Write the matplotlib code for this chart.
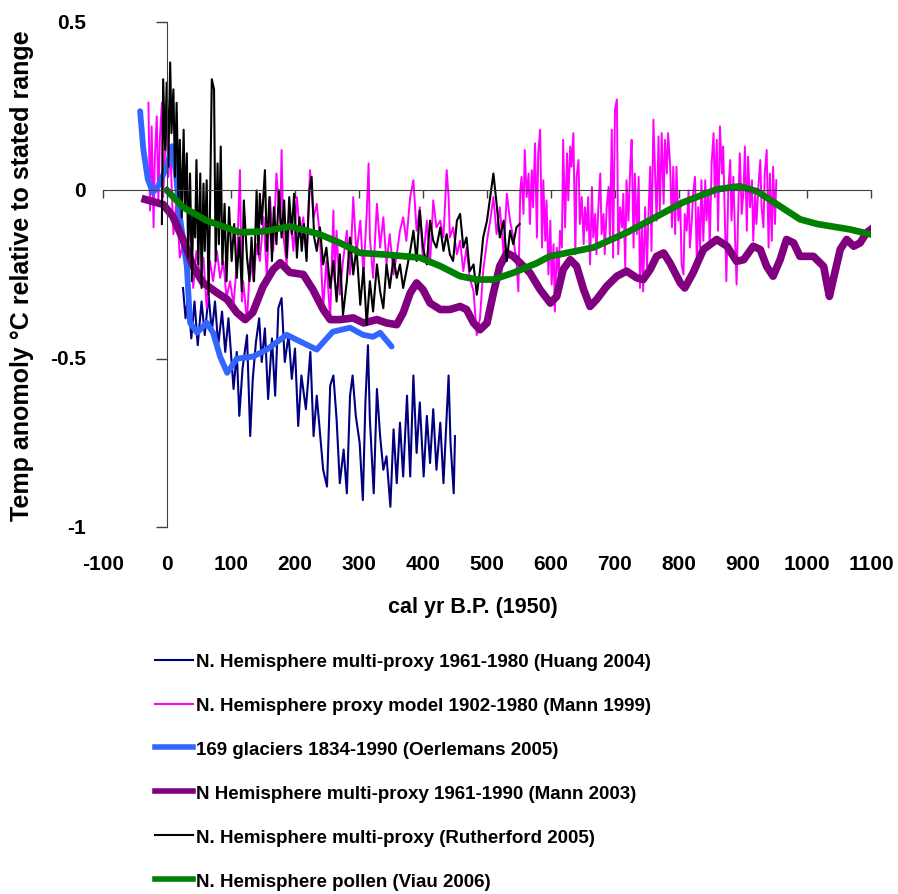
import matplotlib
matplotlib.use("Agg")
import matplotlib.pyplot as plt
import matplotlib.transforms as mtransforms
from matplotlib.lines import Line2D

plt.rcParams['font.family'] = ['Liberation Sans', 'DejaVu Sans']
plt.rcParams['font.weight'] = 'bold'

# === data ===
x_ticks = [-100, 0, 100, 200, 300, 400, 500, 600, 700, 800, 900, 1000, 1100]
y_ticks = [0.5, 0, -0.5, -1]
y_tick_labels = ["0.5", "0", "-0.5", "-1"]

labels = [
    "N. Hemisphere multi-proxy 1961-1980 (Huang 2004)",
    "N. Hemisphere proxy model 1902-1980 (Mann 1999)",
    "169 glaciers 1834-1990 (Oerlemans 2005)",
    "N Hemisphere multi-proxy 1961-1990 (Mann 2003)",
    "N. Hemisphere multi-proxy (Rutherford 2005)",
    "N. Hemisphere pollen (Viau 2006)",
]

# Huang 2004
huang_x = [25, 29, 33, 38, 43, 48, 54, 59, 65, 70, 75, 80, 86, 91, 96,
           104, 109, 113, 118, 125, 130, 134, 139, 144, 148,
           153, 158, 164, 169, 174, 179, 184, 190, 195, 200,
           205, 210, 217, 224, 229, 234, 239, 244, 250, 255,
           260, 265, 270, 276, 281, 286, 290, 295, 301, 306,
           310, 314, 317, 323, 328, 333, 338, 343, 349, 354,
           359, 364, 369, 375, 380, 385, 390, 395, 401, 406,
           411, 416, 421, 427, 432, 440, 443, 448, 450]
huang_y = [-0.29, -0.38, -0.31, -0.44, -0.33, -0.46, -0.33, -0.43, -0.31, -0.42, -0.33, -0.46, -0.36, -0.48, -0.38,
           -0.59, -0.48, -0.67, -0.53, -0.43, -0.73, -0.56, -0.45, -0.38, -0.51,
           -0.41, -0.62, -0.44, -0.61, -0.35, -0.32, -0.51, -0.43, -0.56, -0.47,
           -0.70, -0.55, -0.65, -0.48, -0.73, -0.61, -0.72, -0.83, -0.88, -0.58,
           -0.55, -0.68, -0.87, -0.77, -0.90, -0.61, -0.55, -0.67, -0.75, -0.92,
           -0.63, -0.46, -0.68, -0.90, -0.59, -0.73, -0.83, -0.79, -0.94, -0.71,
           -0.87, -0.69, -0.85, -0.61, -0.85, -0.55, -0.78, -0.63, -0.85, -0.67,
           -0.81, -0.65, -0.83, -0.69, -0.87, -0.55, -0.75, -0.90, -0.73]

# Mann 1999
mann99_x = [-29, -26.5, -24, -21, -19, -16, -13.5, -11, -8, -6, -0.5, 2, 5, 10, 15,
            20, 26, 31, 36, 41, 46, 52, 57, 62, 67, 72, 78, 83, 88, 93,
            98.5, 104, 109, 114, 117, 119, 125, 130, 135, 140, 145, 151, 156, 161, 166,
            171, 177, 179, 182, 187, 192, 197.5, 203, 208, 213, 218, 223.5, 229, 234,
            239, 244, 249, 255, 260, 262, 265, 270, 275, 281, 286, 291, 296, 302, 307,
            312, 315, 317, 322, 328, 333, 338, 343, 348, 354, 359, 364, 369, 374, 380,
            385, 390, 395, 400, 406, 411, 416, 421, 427, 432, 437, 440, 442, 447, 453,
            458, 463, 468, 473, 479, 484, 489, 494, 500, 505, 510, 515, 520, 526, 531,
            536, 541, 546, 549,
            552, 554, 557, 559, 562, 565, 567, 570, 572, 575, 578, 580, 583, 586, 588,
            591, 593, 596, 599, 601, 604, 606, 609, 612, 614, 617, 619, 622, 625, 627,
            630, 632, 635, 638, 640, 643, 645, 648, 651, 653, 656, 658, 661, 664, 666,
            669, 671, 674, 677, 679, 682, 684, 687, 690, 692, 695, 697, 700, 703, 705,
            708, 711, 713, 716, 718, 721, 724, 726, 729, 731, 734, 737, 739, 742, 744,
            747, 750, 752, 755, 757, 760, 763, 765, 768, 770, 773, 776, 778, 781, 783, 786,
            789, 791, 794, 796, 799, 802, 804, 807, 809, 812, 815, 817, 820, 822, 825,
            828, 830, 833, 835, 838, 841, 843, 846, 848, 851, 854, 856, 859, 861, 864,
            867, 869, 872, 874, 877, 880, 882, 885, 888, 890, 893, 895, 898, 901, 903,
            906, 908, 911, 914, 916, 919, 921, 924, 927, 929, 932, 934, 937, 940, 942,
            945, 947, 950, 952]
mann99_y = [0.26, -0.06, 0.19, -0.11, 0.10, 0.22, -0.03, 0.16, 0.26, -0.02, 0.22, 0.04, 0.13, -0.13, -0.03,
            -0.20, -0.15, -0.23, -0.06, -0.29, -0.18, -0.26, -0.20, -0.35, -0.21, -0.27, -0.18, -0.26, -0.21, -0.32,
            -0.27, -0.34, -0.22, 0.06, -0.33, -0.27, -0.39, -0.20, -0.27, -0.16, -0.21, -0.08, -0.26, -0.02, -0.18,
            0.05, -0.10, 0.12, -0.14, -0.22, -0.06, -0.18, -0.02, -0.14, -0.08, -0.20, 0.06, -0.08, -0.04,
            -0.14, -0.35, -0.21, -0.38, -0.06, -0.27, -0.12, -0.31, -0.21, -0.12, -0.25, -0.02, -0.19, -0.09, -0.25,
            -0.07, 0.08, -0.14, -0.26, -0.04, -0.17, -0.08, -0.22, -0.13, -0.25, -0.19, -0.12, -0.08, -0.15, -0.02,
            0.03, -0.12, -0.05, -0.21, -0.09, -0.22, -0.03, -0.11, -0.09, -0.14, 0.06, -0.02, -0.14, -0.11, -0.19,
            -0.15, -0.24, -0.17, -0.26, -0.30, -0.43, -0.38, -0.24, -0.15, -0.09, -0.02, -0.13, -0.05, -0.19, -0.01,
            -0.09, -0.14, -0.21, -0.30,
            0.00, 0.04, -0.07, 0.12, -0.02, 0.05, -0.10, 0.06, -0.05, 0.14, -0.14, 0.11, 0.18, -0.17, 0.03,
            -0.15, -0.03, -0.25, -0.09, -0.28, -0.16, -0.36, -0.17, -0.26, -0.12, -0.17, 0.15, -0.11, 0.11, -0.03,
            0.13, 0.07, 0.17, -0.19, 0.04, 0.09, -0.10, -0.02, -0.16, -0.05, -0.12, -0.02, -0.22, 0.01, -0.14,
            -0.07, -0.19, -0.05, 0.05, -0.13, -0.07, -0.19, -0.05, 0.01, -0.14, 0.18, -0.20, 0.24, 0.27, -0.19,
            -0.05, -0.11, -0.01, -0.23, 0.03, -0.09, 0.08, 0.15, -0.17, 0.05, -0.13, 0.04, -0.29, -0.11, -0.30,
            -0.05, -0.23, -0.09, 0.07, -0.18, 0.21, 0.03, -0.09, 0.16, -0.06, 0.17, -0.04, 0.15, 0.05, 0.17, 0.08,
            -0.11, 0.07, -0.13, 0.07, -0.09, -0.03, -0.22, -0.25, -0.07, -0.12, 0.00, -0.17, -0.09, -0.01, 0.04,
            -0.23, -0.05, -0.17, 0.03, -0.15, 0.03, -0.09, 0.00, -0.17, 0.08, 0.17, -0.02, 0.15, -0.12, 0.19,
            0.05, 0.13, -0.11, -0.27, 0.00, 0.09, -0.09, 0.04, -0.17, -0.28, -0.02, 0.11, -0.07, 0.01, 0.13,
            -0.12, 0.10, -0.05, 0.03, -0.15, -0.01, -0.10, 0.01, 0.09, -0.05, -0.11, 0.05, 0.12, -0.17, 0.05,
            -0.15, 0.07, -0.10, 0.03]

# Oerlemans 2005
glac_x = [-42, -37, -30, -22, -14, 0, 8, 14, 20, 31, 36, 47, 62, 72, 83, 94,
          109, 134, 156, 187, 208, 234, 259, 286, 306, 322, 333, 351]
glac_y = [0.235, 0.122, 0.033, -0.006, 0.012, 0.071, 0.131, 0.05, -0.077, -0.226,
          -0.393, -0.423, -0.393, -0.423, -0.494, -0.542, -0.5, -0.494, -0.473,
          -0.429, -0.449, -0.473, -0.42, -0.408, -0.429, -0.435, -0.423, -0.464]

# Mann 2003
mann03_x = [-34, -6, 9, 25, 41, 56, 78, 94, 109, 122,
            134, 150, 166, 177, 192, 213, 228, 244, 255, 270,
            291, 307, 328, 343, 359, 369, 380, 390, 400, 411,
            427, 442, 458, 468, 479, 489, 500, 510, 520, 531,
            541, 552, 567, 583, 599, 609, 619, 630, 640, 651,
            661, 671, 687, 703, 718, 734, 744, 755, 765, 776,
            786, 802, 809, 822, 838, 859, 875, 890, 901, 916,
            927, 937, 947, 958, 968, 979, 989, 1010, 1026, 1035,
            1041, 1052, 1062, 1073, 1083, 1093, 1100]
mann03_y = [-0.027, -0.042, -0.077, -0.146, -0.226, -0.274, -0.304, -0.324, -0.363, -0.384,
            -0.363, -0.286, -0.235, -0.215, -0.244, -0.25, -0.295, -0.354, -0.384, -0.384,
            -0.379, -0.394, -0.384, -0.394, -0.399, -0.364, -0.305, -0.275, -0.295, -0.335,
            -0.354, -0.354, -0.345, -0.354, -0.394, -0.414, -0.394, -0.305, -0.225, -0.186,
            -0.196, -0.216, -0.245, -0.295, -0.335, -0.315, -0.235, -0.206, -0.225, -0.295,
            -0.345, -0.325, -0.285, -0.255, -0.24, -0.26, -0.265, -0.235, -0.196, -0.186,
            -0.216, -0.275, -0.29, -0.245, -0.176, -0.146, -0.166, -0.211, -0.206, -0.166,
            -0.176, -0.226, -0.255, -0.206, -0.146, -0.156, -0.196, -0.196, -0.226, -0.315,
            -0.265, -0.175, -0.146, -0.166, -0.156, -0.126, -0.116]

# Rutherford 2005
ruth_x = [-8, -6, -3, -0.5, 2, 5, 7, 10, 12.5, 15, 18, 20, 23, 26, 28, 31, 33, 36,
          39, 41, 44, 46, 49, 52, 54, 57, 59, 62, 65, 67, 70, 73.5, 76, 79, 81, 84,
          86.5, 90, 93, 97, 101, 105, 109, 113, 117, 120, 125, 129, 132, 136, 140,
          143, 145, 148, 153, 156, 160, 164, 167, 171, 175, 179, 183, 187, 191, 195,
          198.5, 203, 207, 210.5, 214, 218, 222.5, 226, 230, 234,
          239, 244, 249, 255, 260, 265, 270, 275, 281, 286, 291, 296, 302, 307, 312,
          317, 322, 328, 333, 338, 343, 348, 354, 359, 364, 369, 374, 380, 385, 390,
          395, 400, 406, 411, 416, 421, 427, 432, 437, 442, 447, 453, 458, 463, 468,
          473, 479, 484, 489, 494, 500, 505, 510, 515, 520, 526, 531, 536, 541, 546, 551]
ruth_y = [-0.10, 0.33, 0.12, 0.32, 0.07, 0.38, 0.17, 0.30, 0.04, 0.26, -0.03, 0.15,
          -0.08, 0.18, -0.06, 0.11, -0.20, 0.05, -0.27, -0.06, -0.14, 0.09, -0.22,
          0.05, -0.29, 0.02, -0.18, 0.03, -0.31, -0.08, 0.33, 0.30, -0.21, 0.08,
          -0.16, 0.13, -0.22, -0.04, -0.27, -0.05, -0.21, -0.10, -0.26, -0.14, -0.30,
          -0.03, -0.20, -0.27, -0.14, -0.27, 0.00, -0.19, -0.01, -0.10, 0.06, -0.18,
          -0.02, -0.21, -0.05, -0.16, 0.00, -0.14, -0.03, -0.20, -0.02, -0.13, -0.01,
          -0.20, -0.08, -0.18, -0.10, -0.21, 0.00, 0.04, -0.14, -0.18,
          -0.11, -0.22, -0.17, -0.29, -0.21, -0.33, -0.19, -0.37, -0.27, -0.14, -0.25,
          -0.17, -0.34, -0.23, -0.40, -0.27, -0.36, -0.22, -0.30, -0.35, -0.22, -0.29,
          -0.20, -0.26, -0.22, -0.29, -0.24, -0.18, -0.12, -0.21, -0.06, -0.17, -0.22,
          -0.09, -0.15, -0.17, -0.11, -0.18, -0.13, -0.19, -0.21, -0.09, -0.07, -0.17,
          -0.14, -0.24, -0.22, -0.31, -0.24, -0.14, -0.09, -0.02, 0.05, -0.04, -0.14,
          -0.09, -0.21, -0.12, -0.16, -0.11, -0.10]

# Viau 2006
viau_x = [0, 25, 62, 114, 150, 192, 239, 270, 302, 343, 395, 427, 458, 484, 510,
          541, 578, 598, 666, 719, 806, 859, 895, 922, 989, 1016, 1067, 1100]
viau_y = [0.0, -0.05, -0.09, -0.125, -0.122, -0.107, -0.131, -0.156, -0.186, -0.191,
          -0.2, -0.225, -0.255, -0.265, -0.265, -0.245, -0.216, -0.196, -0.17, -0.125,
          -0.036, 0.003, 0.012, -0.003, -0.086, -0.1, -0.116, -0.131]

# === figure ===
fig = plt.figure(figsize=(8.98, 8.95), dpi=100)
ax = fig.add_axes([103 / 898, 1 - 528 / 895, 768 / 898, 505 / 895])

ax.plot(huang_x, huang_y, color='#000080', lw=1.5)
ax.plot(mann99_x, mann99_y, color='#FF00FF', lw=1.4)
ax.plot(glac_x, glac_y, color='#3366FF', lw=4.2, solid_capstyle='round')
ax.plot(mann03_x, mann03_y, color='#800080', lw=5.5, solid_joinstyle='round')
ax.plot(ruth_x, ruth_y, color='black', lw=1.5)
ax.plot(viau_x, viau_y, color='#008000', lw=4.8, solid_joinstyle='round')

ax.set_xlim(-100, 1100)
ax.set_ylim(-1, 0.5)

axis_col = '#404040'
for side in ['top', 'right']:
    ax.spines[side].set_visible(False)
ax.spines['left'].set_position(('data', 0))
ax.spines['bottom'].set_position(('data', 0))
ax.spines['left'].set_color(axis_col)
ax.spines['bottom'].set_color(axis_col)
ax.set_xticks(x_ticks)
ax.set_yticks(y_ticks)
ax.tick_params(axis='x', direction='out', length=6, width=1, color=axis_col, labelbottom=False)
ax.tick_params(axis='y', direction='out', length=8, width=1, color=axis_col, labelleft=False)

# tick labels sit at the outer edges like in the Excel chart
tx = mtransforms.blended_transform_factory(ax.transData, ax.transAxes)
for v in x_ticks:
    ax.text(v, -36 / 505, str(v), transform=tx, ha='center', va='center',
            fontsize=15, fontweight='bold')
ty = mtransforms.blended_transform_factory(ax.transAxes, ax.transData)
for v, s in zip(y_ticks, y_tick_labels):
    ax.text(-17 / 768, v, s, transform=ty, ha='right', va='center',
            fontsize=15, fontweight='bold')

fig.text(473 / 898, 1 - 607 / 895, "cal yr B.P. (1950)", ha='center', va='center',
         fontsize=15.5, fontweight='bold')
fig.text(22 / 898, 1 - 276 / 895, "Temp anomoly °C relative to stated range",
         rotation=90, ha='center', va='center', fontsize=18, fontweight='bold')

handles = [
    Line2D([], [], color='#000080', lw=1.5),
    Line2D([], [], color='#FF00FF', lw=1.5),
    Line2D([], [], color='#3366FF', lw=4),
    Line2D([], [], color='#800080', lw=4),
    Line2D([], [], color='black', lw=1.5),
    Line2D([], [], color='#008000', lw=4),
]
fig.legend(handles, labels, loc='upper left', bbox_to_anchor=(155 / 898, 1 - 654 / 895),
           frameon=False, prop={'weight': 'bold', 'size': 13.5},
           handlelength=2.0, handletextpad=0.2, labelspacing=1.43,
           borderpad=0, borderaxespad=0)

fig.savefig("out.png", dpi=100)
